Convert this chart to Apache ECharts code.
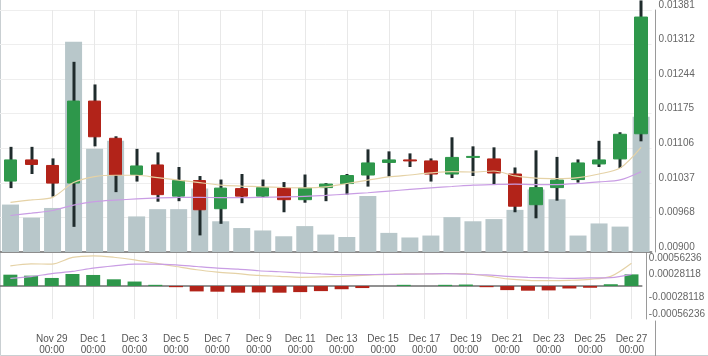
<!DOCTYPE html>
<html><head><meta charset="utf-8">
<script src="https://cdn.jsdelivr.net/npm/echarts@6/dist/echarts.min.js"></script>
<style>html,body{margin:0;padding:0;background:#fff;overflow:hidden}#c{width:708px;height:356px}</style>
</head><body><div id="c"></div>
<script>
const dates = ['Nov 27','Nov 28','Nov 29','Nov 30','Dec 1','Dec 2','Dec 3','Dec 4','Dec 5','Dec 6','Dec 7','Dec 8','Dec 9','Dec 10','Dec 11','Dec 12','Dec 13','Dec 14','Dec 15','Dec 16','Dec 17','Dec 18','Dec 19','Dec 20','Dec 21','Dec 22','Dec 23','Dec 24','Dec 25','Dec 26','Dec 27'];
const openP  = [0.01041,0.01083,0.01072,0.01037,0.01200,0.01126,0.01054,0.01073,0.01011,0.01042,0.00986,0.01026,0.01011,0.01027,0.01004,0.01028,0.01036,0.01053,0.01078,0.01083,0.01081,0.01055,0.01088,0.01085,0.01055,0.00994,0.01028,0.01044,0.01075,0.01085,0.01135];
const closeP = [0.01083,0.01074,0.01037,0.01200,0.01129,0.01053,0.01071,0.01014,0.01042,0.00984,0.01027,0.01011,0.01028,0.01004,0.01027,0.01035,0.01052,0.01077,0.01083,0.01081,0.01055,0.01088,0.01090,0.01057,0.00991,0.01028,0.01043,0.01077,0.01083,0.01134,0.01367];
const lowP   = [0.01027,0.01055,0.01010,0.00950,0.01110,0.01019,0.01040,0.01000,0.01001,0.00933,0.00956,0.00997,0.01009,0.00979,0.00998,0.01001,0.01014,0.01030,0.01050,0.01069,0.01040,0.01047,0.01051,0.01035,0.00979,0.00967,0.01002,0.01038,0.01069,0.01067,0.01120];
const highP  = [0.01109,0.01109,0.01086,0.01278,0.01233,0.01130,0.01105,0.01098,0.01069,0.01051,0.01044,0.01055,0.01044,0.01039,0.01054,0.01037,0.01055,0.01104,0.01100,0.01096,0.01086,0.01128,0.01110,0.01108,0.01068,0.01102,0.01089,0.01084,0.01121,0.01138,0.01400];
const volume = [19.6,14.2,18.2,86.9,42.7,46.0,14.7,17.7,17.7,26.2,12.7,9.9,8.9,6.5,10.7,7.2,6.2,23.1,7.9,6.0,6.8,14.4,12.7,13.6,17.4,25.8,21.8,6.8,11.8,10.5,55.9];
const maShort = [0.009988,0.010035,0.010086,0.010380,0.010498,0.010525,0.010525,0.010478,0.010427,0.010380,0.010329,0.010310,0.010296,0.010282,0.010276,0.010296,0.010361,0.010427,0.010492,0.010531,0.010571,0.010596,0.010590,0.010610,0.010512,0.010467,0.010459,0.010478,0.010551,0.010669,0.011081];
const maLong  = [0.009726,0.009772,0.009825,0.009933,0.010001,0.010031,0.010054,0.010074,0.010086,0.010086,0.010080,0.010080,0.010086,0.010094,0.010105,0.010125,0.010152,0.010178,0.010211,0.010243,0.010276,0.010302,0.010329,0.010341,0.010349,0.010341,0.010341,0.010361,0.010394,0.010433,0.010596];
const macdHist = [0.000193,0.000176,0.000137,0.000205,0.000188,0.000114,0.000076,0.000020,-0.000020,-0.000092,-0.000097,-0.000114,-0.000109,-0.000114,-0.000104,-0.000087,-0.000055,-0.000035,0,0.000020,0,0.000020,0.000025,-0.000020,-0.000070,-0.000080,-0.000075,-0.000042,-0.000030,0.000030,0.000198];
const macdDif  = [0.000344,0.000378,0.000372,0.000488,0.000515,0.000490,0.000445,0.000389,0.000332,0.000277,0.000238,0.000210,0.000181,0.000165,0.000148,0.000154,0.000165,0.000181,0.000193,0.000205,0.000206,0.000210,0.000210,0.000171,0.000121,0.000097,0.000092,0.000097,0.000114,0.000165,0.000389];
const macdDea  = [0.000130,0.000160,0.000210,0.000248,0.000305,0.000344,0.000373,0.000373,0.000361,0.000332,0.000305,0.000289,0.000260,0.000243,0.000222,0.000205,0.000193,0.000193,0.000198,0.000201,0.000205,0.000210,0.000201,0.000188,0.000165,0.000148,0.000138,0.000131,0.000138,0.000143,0.000198];
const priceTickLabels = ['0.00900','0.00968','0.01037','0.01106','0.01175','0.01244','0.01312','0.01381'];
const macdTickLabels = ['-0.00056236','-0.00028118','','0.00028118','0.00056236'];

const PRICE_MIN = 0.009, PRICE_MAX = 0.01381;
const PRICE_STEP = (PRICE_MAX - PRICE_MIN) / 7;
const MACD_STEP = 0.00028118, MACD_MAX = 0.00056236;
const GREEN = '#2e974b', RED = '#b22319', WICK = '#1f2b2c', VOL = '#b8c7ca';
const TAN = '#e5d2a6', PURPLE = '#c99de4';
const FONT = "'Liberation Sans Narrow','Liberation Sans',Arial,sans-serif";
const GL = -1.6, GR = 56.4;

const wickData = dates.map((d, i) => [lowP[i], highP[i], lowP[i], highP[i]]);
const bodyData = dates.map((d, i) => [openP[i], closeP[i], Math.min(openP[i], closeP[i]), Math.max(openP[i], closeP[i])]);
const labelIdx = (i) => i % 2 === 0 && i > 0;

const chart = echarts.init(document.getElementById('c'), null, {renderer: 'canvas'});
chart.setOption({
  animation: false,
  backgroundColor: '#fff',
  textStyle: {fontFamily: FONT},
  graphic: [{type: 'rect', shape: {x: 0.5, y: -2, width: 800, height: 357.5}, style: {fill: 'none', stroke: '#c9cfd2', lineWidth: 1}, z: 0, silent: true}],
  grid: [
    {left: GL, right: GR, top: 7, height: 245},
    {left: GL, right: GR, top: 253, height: 67},
    {left: GL, right: GR, top: 321, height: 40}
  ],
  xAxis: [
    {type: 'category', gridIndex: 0, data: dates, boundaryGap: true,
     axisLine: {show: true, lineStyle: {color: '#6e6e6e', width: 1.5}}, axisTick: {show: false}, axisLabel: {show: false},
     splitLine: {show: true, interval: labelIdx, alignWithLabel: true, lineStyle: {color: '#e8e8e8', width: 1}}},
    {type: 'category', gridIndex: 1, data: dates, boundaryGap: true,
     axisLine: {show: true, lineStyle: {color: '#6e6e6e', width: 1.5}}, axisTick: {show: false},
     axisLabel: {show: true, interval: labelIdx, formatter: (v) => v + '\n00:00', color: '#555', fontSize: 10, lineHeight: 11, margin: 15, fontFamily: FONT},
     splitLine: {show: true, interval: labelIdx, alignWithLabel: true, lineStyle: {color: '#e8e8e8', width: 1}}},
    {type: 'category', gridIndex: 2, data: dates, show: false}
  ],
  yAxis: [
    {type: 'value', gridIndex: 0, position: 'right', offset: 4, min: PRICE_MIN, max: PRICE_MAX, interval: PRICE_STEP,
     axisLine: {show: true, lineStyle: {color: '#9a9a9a', width: 1}}, axisTick: {show: false},
     axisLabel: {color: '#666', fontSize: 10, margin: 3, verticalAlign: 'bottom', lineHeight: 10, fontFamily: FONT,
       formatter: (v) => priceTickLabels[Math.round((v - PRICE_MIN) / PRICE_STEP)] || ''},
     splitLine: {show: true, lineStyle: {color: '#eeeeee', width: 1}}},
    {type: 'value', gridIndex: 0, min: 0, max: 100, show: false},
    {type: 'value', gridIndex: 1, position: 'right', offset: 4, min: -MACD_MAX, max: MACD_MAX, interval: MACD_STEP,
     axisLine: {show: true, lineStyle: {color: '#9a9a9a', width: 1}}, axisTick: {show: false},
     axisLabel: {color: '#666', fontSize: 10, margin: 3, verticalAlign: 'top', lineHeight: 10, fontFamily: FONT,
       formatter: (v) => v > 0 ? macdTickLabels[Math.round(v / MACD_STEP) + 2] : ''},
     splitLine: {show: false}},
    {type: 'value', gridIndex: 1, position: 'right', offset: 4, min: -MACD_MAX, max: MACD_MAX, interval: MACD_STEP,
     axisLine: {show: false}, axisTick: {show: false},
     axisLabel: {color: '#666', fontSize: 10, margin: 3, verticalAlign: 'bottom', lineHeight: 10, fontFamily: FONT,
       formatter: (v) => v < 0 ? macdTickLabels[Math.round(v / MACD_STEP) + 2] : ''},
     splitLine: {show: false}},
    {type: 'value', gridIndex: 2, position: 'right', offset: 4, min: 0, max: 1,
     axisLine: {show: true, lineStyle: {color: '#9a9a9a', width: 1}}, axisTick: {show: false}, axisLabel: {show: false}, splitLine: {show: false}}
  ],
  series: [
    {type: 'bar', name: 'Volume', xAxisIndex: 0, yAxisIndex: 1, data: volume, barWidth: 17, itemStyle: {color: VOL}, z: 1},
    {type: 'candlestick', name: 'wick', xAxisIndex: 0, yAxisIndex: 0, data: wickData, barWidth: 3.5, clip: false, z: 2,
     itemStyle: {color: WICK, color0: WICK, borderColor: WICK, borderColor0: WICK, borderWidth: 0}},
    {type: 'candlestick', name: 'price', xAxisIndex: 0, yAxisIndex: 0, data: bodyData, barWidth: 13, clip: false, z: 3,
     itemStyle: {color: GREEN, color0: RED, borderColor: GREEN, borderColor0: RED, borderWidth: 1}},
    {type: 'line', name: 'MA short', xAxisIndex: 0, yAxisIndex: 0, data: maShort, showSymbol: false, smooth: 0.3, z: 4,
     lineStyle: {color: TAN, width: 1.2}},
    {type: 'line', name: 'MA long', xAxisIndex: 0, yAxisIndex: 0, data: maLong, showSymbol: false, smooth: 0.3, z: 4,
     lineStyle: {color: PURPLE, width: 1.2}},
    {type: 'bar', name: 'MACD hist', xAxisIndex: 1, yAxisIndex: 2, data: macdHist, barWidth: 14, z: 2,
     itemStyle: {color: (p) => p.value >= 0 ? GREEN : RED}},
    {type: 'line', name: 'DIF', xAxisIndex: 1, yAxisIndex: 2, data: macdDif, showSymbol: false, smooth: 0.3, z: 3,
     lineStyle: {color: TAN, width: 1.2}},
    {type: 'line', name: 'DEA', xAxisIndex: 1, yAxisIndex: 2, data: macdDea, showSymbol: false, smooth: 0.3, z: 3,
     lineStyle: {color: PURPLE, width: 1.2}}
  ]
});
</script>
</body></html>
